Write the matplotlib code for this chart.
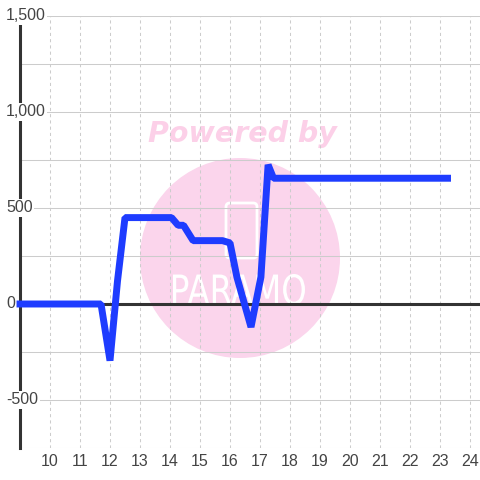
import numpy as np
import matplotlib
matplotlib.use('Agg')
import matplotlib.pyplot as plt
from matplotlib.patches import Circle, FancyBboxPatch, PathPatch
from matplotlib.textpath import TextPath
from matplotlib.font_manager import FontProperties
from matplotlib.transforms import Affine2D, blended_transform_factory

# data
hours = [9.0, 11.7, 12.0, 12.25, 12.5, 14.05, 14.27, 14.45, 14.77, 15.75, 16.0,
         16.23, 16.7, 17.03, 17.27, 17.45, 23.25]
values = [0, 0, -295, 120, 450, 450, 410, 410, 330, 330, 318,
          140, -120, 140, 725, 655, 655]

x_ticks = list(range(10, 25))
y_ticks = [-500, 0, 500, 1000, 1500]
y_tick_labels = ['-500', '0', '500', '1,000', '1,500']

W = 480.0
LABEL_FONT = 'Liberation Sans'
LABEL_COLOR = '#444444'
LINE_BLUE = '#1e3cff'
PINK = '#fbd5ec'

fig = plt.figure(figsize=(4.8, 4.8), dpi=100, facecolor='white')
ax = fig.add_axes([20 / W, 32 / W, 460 / W, 432 / W])
ax.set_xlim(9, 24.333)
ax.set_ylim(-750, 1500)

for side in ['top', 'right', 'bottom']:
    ax.spines[side].set_visible(False)
ax.spines['left'].set_color('#333333')
ax.spines['left'].set_linewidth(2.2)

ax.set_axisbelow(True)
ax.set_xticks(x_ticks)
ax.set_yticks(np.arange(-750, 1501, 250))
ax.xaxis.grid(True, color='#cccccc', lw=0.75, ls=(0, (3, 3)))
ax.yaxis.grid(True, color='#cccccc', lw=0.75, ls='-')
ax.tick_params(axis='both', length=0)
ax.tick_params(axis='y', labelleft=False)
ax.set_xticklabels([str(t) for t in x_ticks], fontfamily=LABEL_FONT,
                   fontsize=11.5, color=LABEL_COLOR)
ax.tick_params(axis='x', pad=4.5)

# y labels sit inside the plot, over the axis line
trans = blended_transform_factory(fig.transFigure, ax.transData)
for val, lab in zip(y_ticks, y_tick_labels):
    ax.text(6 / W, val, lab, transform=trans, ha='left', va='center',
            fontfamily=LABEL_FONT, fontsize=11.5, color=LABEL_COLOR,
            bbox=dict(fc='white', ec='none', pad=1.2), zorder=3, clip_on=False)

# watermark
ax.add_patch(Circle((240 / W, 1 - 258 / W), 100 / W, transform=fig.transFigure,
                    fc=PINK, ec='none', zorder=0.2))
ax.text(242 / W, 1 - 134 / W, 'Powered by', transform=fig.transFigure,
        ha='center', va='center', fontsize=20.5, fontweight='bold',
        fontstyle='italic', color='#fcd0e8', zorder=0.3)
ax.add_patch(FancyBboxPatch((226 / W, 1 - 258 / W), 31 / W, 55 / W,
                            boxstyle='round,pad=0,rounding_size=0.008',
                            transform=fig.transFigure, fc='none', ec='white',
                            lw=2.0, zorder=0.4))
tp = TextPath((0, 0), 'PARAMO', size=1,
              prop=FontProperties(family='DejaVu Sans'))
ext = tp.get_extents()
tr = (Affine2D().translate(-ext.x0, -ext.y0)
      .scale(132 / ext.width / W, 31 / ext.height / W)
      .translate(173 / W, 1 - 305 / W) + fig.transFigure)
ax.add_patch(PathPatch(tp, transform=tr, fc='white', ec='none', zorder=0.4))

ax.axhline(0, color='#333333', lw=2.2, zorder=1.5)
ax.plot(hours, values, color=LINE_BLUE, lw=5, solid_joinstyle='bevel',
        solid_capstyle='projecting', zorder=2.6, clip_on=False)

fig.savefig('out.png', dpi=100, facecolor='white')
